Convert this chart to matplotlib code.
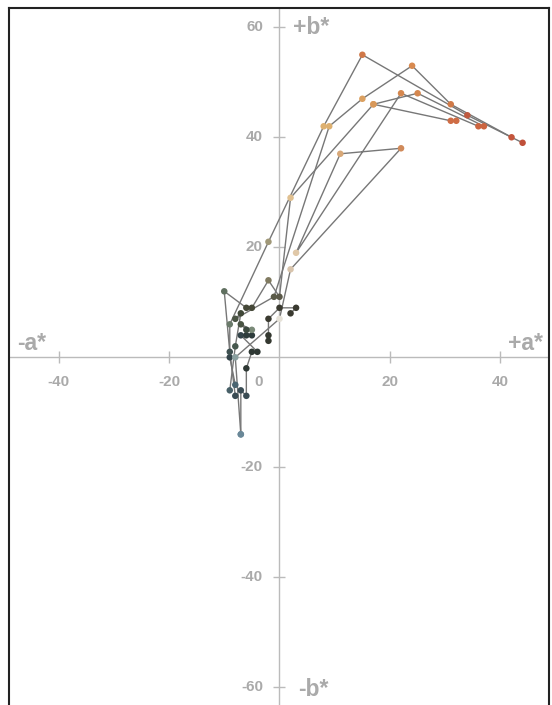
import matplotlib
matplotlib.use("Agg")
from matplotlib import pyplot as plt

plt.rcParams['font.family'] = ['Liberation Sans', 'DejaVu Sans']

# each series: a* values, b* values, point colours
s1_a = [-8, -9, -9, -2, 8, 15, 34, 44]
s1_b = [-5, 0, 6, 21, 42, 55, 44, 39]
s1_c = ['#4a6470', '#34444a', '#6a7a6a', '#a09878', '#ddb070', '#d07848',
        '#c05a40', '#c0503a']

s2_a = [-7, -8, 0, 2, 22, 11, 3, 22, 36]
s2_b = [-14, 0, 7, 16, 38, 37, 19, 48, 42]
s2_c = ['#6a8898', '#8aa0a0', '#e6e2d8', '#d8c4ac', '#d08a5a', '#d8a878',
        '#e0c8a8', '#d5874e', '#cc6540']

s3_a = [-8, -9, -10, -6, -5, -2, 0, 2, 17, 31, 32]
s3_b = [-7, 1, 12, 9, 9, 14, 11, 29, 46, 43, 43]
s3_c = ['#3a4c54', '#3e5050', '#607060', '#454838', '#454838', '#807a60',
        '#5a5848', '#e0c090', '#d8985a', '#cf6d45', '#cf6d45']

s4_a = [-9, -8, -7, -8, -1, 9, 15, 24, 31, 42]
s4_b = [-6, 2, 8, 7, 11, 42, 47, 53, 46, 40]
s4_c = ['#486068', '#46584e', '#404838', '#4a5444', '#5a5a48', '#ddb070',
        '#dba060', '#d88a50', '#d07a48', '#c4553c']

s5_a = [-7, -7, -6, -6, -5, -4, -7, -6, -5, -5, -7, -6]
s5_b = [-14, -6, -7, -2, 1, 1, 4, 4, 4, 5, 6, 5]
s5_c = ['#6a8898', '#3a4c54', '#3a4c54', '#2e3834', '#2e3834', '#2e3834',
        '#34444a', '#2e3c3c', '#2e3c3c', '#7a8a78', '#4a5444', '#3c4a40']

s6_a = [17, 25, 37]
s6_b = [46, 48, 42]
s6_c = ['#d8985a', '#d5874e', '#cc6540']

s7_a = [-2, -2, -2, 0, 3, 2]
s7_b = [3, 4, 7, 9, 9, 8]
s7_c = ['#343830', '#343830', '#3a3a30', '#3a3a30', '#3a3a30', '#3a3a30']

series = [(s1_a, s1_b, s1_c), (s2_a, s2_b, s2_c), (s3_a, s3_b, s3_c),
          (s4_a, s4_b, s4_c), (s5_a, s5_b, s5_c), (s6_a, s6_b, s6_c),
          (s7_a, s7_b, s7_c)]

ticks = [-60, -40, -20, 20, 40, 60]
grey = '#aaaaaa'

fig = plt.figure(figsize=(5.52, 7.05), dpi=100)
ax = fig.add_axes([9 / 552, 0, 540 / 552, 697 / 705])
ax.set_xlim(-48.96, 48.78)
ax.set_ylim(-63.2, 63.5)

ax.axhline(0, color='#bbbbbb', lw=1, zorder=1)
ax.axvline(0, color='#bbbbbb', lw=1, zorder=1)
ax.plot([t for t in ticks if abs(t) < 48], [0] * 4, ls='none', marker='|',
        ms=9, mew=1, color='#bbbbbb', zorder=1)
ax.plot([0] * len(ticks), ticks, ls='none', marker='_', ms=8, mew=1,
        color='#bbbbbb', zorder=1)

for t in ticks:
    if abs(t) < 48:
        ax.text(t, -4.4, str(t), ha='center', va='center', fontsize=11,
                fontweight='bold', color=grey)
    ax.text(-3.0, t, str(t), ha='right', va='center', fontsize=11,
            fontweight='bold', color=grey)
ax.text(-3.0, -4.4, '0', ha='right', va='center', fontsize=11,
        fontweight='bold', color=grey)

ax.text(2.4, 60, '+b*', ha='left', va='center', fontsize=16.5, fontweight='bold', color=grey)
ax.text(3.3, -60.3, '-b*', ha='left', va='center', fontsize=16.5, fontweight='bold', color=grey)
ax.text(-47.4, 2.6, '-a*', ha='left', va='center', fontsize=16.5, fontweight='bold', color=grey)
ax.text(47.6, 2.6, '+a*', ha='right', va='center', fontsize=16.5, fontweight='bold', color=grey)

for a, b, c in series:
    ax.plot(a, b, color='#777777', lw=1, zorder=2)
    ax.scatter(a, b, s=22, c=c, zorder=3, linewidths=0)

ax.set_xticks([])
ax.set_yticks([])
for side in ['top', 'left', 'right']:
    ax.spines[side].set_color('#222222')
    ax.spines[side].set_linewidth(1.5)
ax.spines['bottom'].set_visible(False)

fig.savefig('out.png', dpi=100)
